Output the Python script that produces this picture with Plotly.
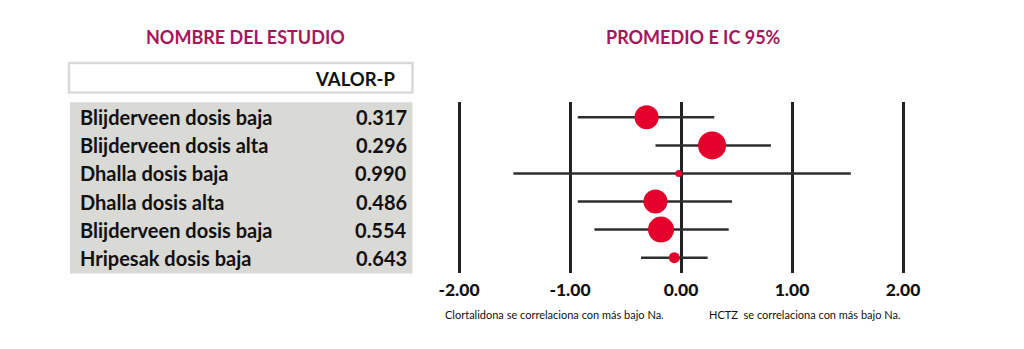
import plotly.graph_objects as go

studies = ["Blijderveen dosis baja", "Blijderveen dosis alta", "Dhalla dosis baja",
           "Dhalla dosis alta", "Blijderveen dosis baja", "Hripesak dosis baja"]
p_values = ["0.317", "0.296", "0.990", "0.486", "0.554", "0.643"]
means = [-0.31, 0.28, -0.02, -0.23, -0.18, -0.06]
ci_low = [-0.93, -0.23, -1.51, -0.93, -0.78, -0.36]
ci_high = [0.30, 0.81, 1.53, 0.46, 0.43, 0.24]
weights = [24, 28, 7, 24, 26, 11]
tick_vals = [-2, -1, 0, 1, 2]
tick_text = ["-2.00", "-1.00", "0.00", "1.00", "2.00"]

W, H = 1024, 349
FONT = "Lato"
TITLE_COLOR = "#A6165D"
RED = "#E4002B"

def px(x):
    return x / W

def py(y):
    return 1 - y / H

rows = list(range(len(studies)))

fig = go.Figure()
fig.add_trace(go.Scatter(
    x=means, y=rows, mode="markers",
    marker=dict(size=weights, color=RED, opacity=1, line=dict(width=0)),
    error_x=dict(type="data", symmetric=False,
                 array=[h - m for h, m in zip(ci_high, means)],
                 arrayminus=[m - l for m, l in zip(means, ci_low)],
                 color="#2e2e2e", thickness=2.5, width=0),
    cliponaxis=False, hoverinfo="skip", showlegend=False,
))

shapes = [
    dict(type="rect", xref="paper", yref="paper",
         x0=px(69), x1=px(412.5), y0=py(92.5), y1=py(63),
         line=dict(color="#D9D9D9", width=2.5), fillcolor="white", layer="below"),
    dict(type="rect", xref="paper", yref="paper",
         x0=px(70), x1=px(412.5), y0=py(273.5), y1=py(102.3),
         line=dict(width=0), fillcolor="#D9D9D6", layer="below"),
]

def ann(text, x, y, size, color="#111", xanchor="center", yref="paper", bold=True):
    return dict(text=("<b>%s</b>" % text) if bold else text, x=x, y=y,
                xref="paper", yref=yref, xanchor=xanchor, yanchor="middle",
                showarrow=False, font=dict(family=FONT, size=size, color=color))

annotations = [
    ann("NOMBRE DEL ESTUDIO", px(245), py(37), 18, TITLE_COLOR),
    ann("PROMEDIO E IC 95%", px(693), py(37), 18, TITLE_COLOR),
    ann("VALOR-P", px(398), py(79), 18.5, xanchor="right"),
    ann("Clortalidona se correlaciona con más bajo Na.", px(443), py(314), 11,
        xanchor="left", bold=False),
    ann("HCTZ&nbsp; se correlaciona con más bajo Na.", px(707), py(314), 11,
        xanchor="left", bold=False),
]
for i, (s, p) in enumerate(zip(studies, p_values)):
    annotations.append(ann(s, px(77.5), i, 20, xanchor="left", yref="y"))
    annotations.append(ann(p, px(408.5), i, 20, xanchor="right", yref="y"))

fig.update_layout(
    width=W, height=H, margin=dict(l=0, r=0, t=0, b=0, pad=0, autoexpand=False),
    paper_bgcolor="white", plot_bgcolor="white",
    xaxis=dict(domain=[px(447.9), px(914.1)], range=[-2.1, 2.1],
               tickvals=tick_vals, ticktext=tick_text,
               showgrid=True, gridcolor="#222", gridwidth=2.5,
               zeroline=False, showline=False, ticks="", automargin=False,
               ticklabelstandoff=4,
               tickfont=dict(family=FONT, size=17.5, color="#111", weight=900)),
    yaxis=dict(domain=[py(273), py(102)], range=[5.545, -0.545], automargin=False,
               showgrid=False, zeroline=False, showticklabels=False, ticks=""),
    shapes=shapes, annotations=annotations,
)

fig.write_html("out.html")
